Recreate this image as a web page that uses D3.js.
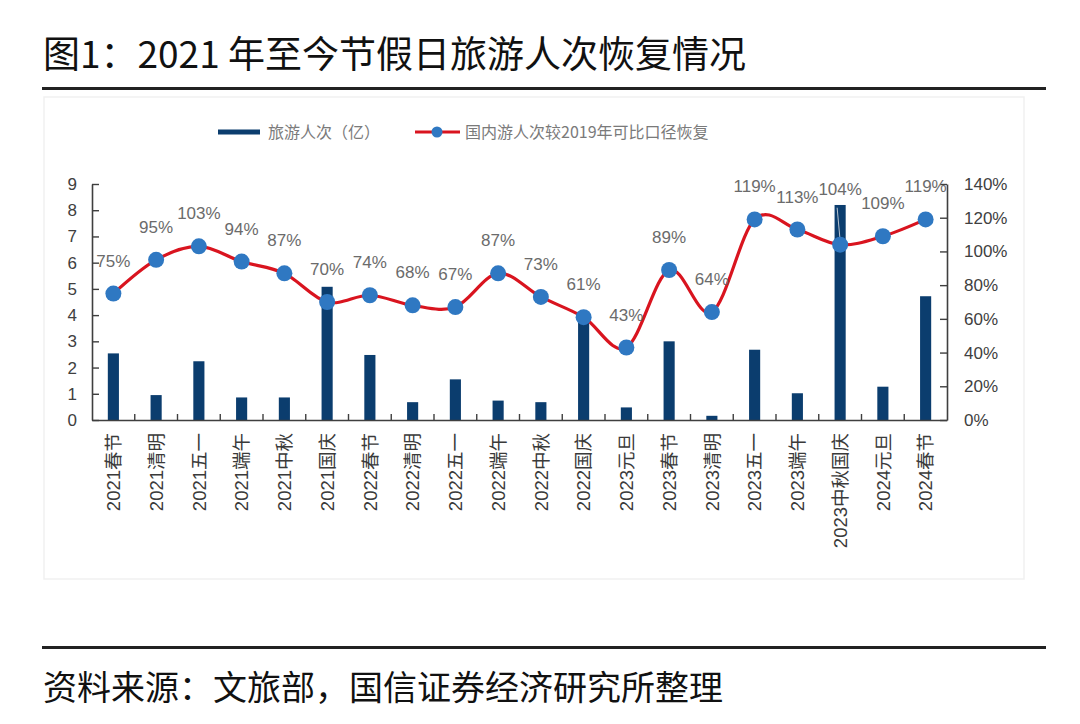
<!DOCTYPE html>
<html><head><meta charset="utf-8">
<script src="https://cdn.jsdelivr.net/npm/d3@7"></script>
<style>
html,body{margin:0;padding:0;background:#fff;}
svg{display:block;}
</style>
</head><body>
<svg id="chart" width="1080" height="724"></svg>
<script>
// ---- data ----
const categories = ["2021春节","2021清明","2021五一","2021端午","2021中秋","2021国庆",
  "2022春节","2022清明","2022五一","2022端午","2022中秋","2022国庆",
  "2023元旦","2023春节","2023清明","2023五一","2023端午","2023中秋国庆",
  "2024元旦","2024春节"];
const trips = [2.54, 0.95, 2.24, 0.86, 0.86, 5.08, 2.48, 0.68, 1.55, 0.74, 0.68, 3.95,
  0.48, 3.0, 0.16, 2.68, 1.02, 8.2, 1.27, 4.72];
const recovery = [0.75, 0.95, 1.03, 0.94, 0.87, 0.70, 0.74, 0.68, 0.67, 0.87, 0.73, 0.61,
  0.43, 0.89, 0.64, 1.19, 1.13, 1.04, 1.09, 1.19];
const leftTicks = [0,1,2,3,4,5,6,7,8,9];
const rightTicks = [0,0.2,0.4,0.6,0.8,1.0,1.2,1.4];
const title = "图1：2021 年至今节假日旅游人次恢复情况";
const source = "资料来源：文旅部，国信证券经济研究所整理";
const legendLabels = ["旅游人次（亿）","国内游人次较2019年可比口径恢复"];

// ---- layout ----
const svg = d3.select("#chart");
const L = 92, R = 947, T = 184, B = 420;
const barColor = "#0b3d6e", lineColor = "#d9141f", dotColor = "#2f78c2";
const axisColor = "#3f3f3f";
const fontLatin = "'Liberation Sans', Arial, 'Noto Sans CJK SC', sans-serif";
const fontCJK = "'Noto Sans CJK SC', 'Liberation Sans', sans-serif";

// title & rules
svg.append("text").attr("x", 43).attr("y", 68).text(title)
  .attr("font-family", fontCJK).attr("font-size", 37).attr("font-weight", 400).attr("fill", "#111");
svg.append("rect").attr("x", 42).attr("y", 87).attr("width", 1004).attr("height", 3).attr("fill", "#222");
svg.append("rect").attr("x", 42).attr("y", 646).attr("width", 1004).attr("height", 3).attr("fill", "#222");
svg.append("text").attr("x", 43).attr("y", 700).text(source)
  .attr("font-family", fontCJK).attr("font-size", 34).attr("font-weight", 400).attr("fill", "#111");

// faint panel
svg.append("rect").attr("x", 44).attr("y", 97).attr("width", 980).attr("height", 482)
  .attr("fill", "#fff").attr("stroke", "#f1f1f1").attr("stroke-width", 1.5);

// scales
const x = d3.scaleBand().domain(categories).range([L, R]).padding(0);
const yL = d3.scaleLinear().domain([0, 9]).range([B, T]);
const yR = d3.scaleLinear().domain([0, 1.4]).range([B, T]);
const bw = x.bandwidth() * 0.26;
const cx = c => x(c) + x.bandwidth() / 2;

// bars
svg.append("g").selectAll("rect").data(categories).join("rect")
  .attr("x", d => cx(d) - bw / 2)
  .attr("y", (d, i) => yL(trips[i]))
  .attr("width", bw)
  .attr("height", (d, i) => B - yL(trips[i]))
  .attr("fill", barColor);

// axes
const gL = svg.append("g").attr("transform", `translate(${L},0)`)
  .call(d3.axisLeft(yL).tickValues(leftTicks).tickSizeInner(-7).tickSizeOuter(0).tickPadding(15));
const gR = svg.append("g").attr("transform", `translate(${R},0)`)
  .call(d3.axisRight(yR).tickValues(rightTicks).tickSizeInner(-7).tickSizeOuter(0).tickPadding(17)
    .tickFormat(d3.format(".0%")));
[gL, gR].forEach(g => {
  g.select(".domain").attr("stroke", axisColor).attr("stroke-width", 1.6);
  g.selectAll(".tick line").attr("stroke", axisColor).attr("stroke-width", 1.4);
  g.selectAll(".tick text").attr("font-family", fontLatin).attr("font-size", 17).attr("fill", "#404040");
});

// x axis
const gX = svg.append("g").attr("transform", `translate(0,${B})`)
  .call(d3.axisBottom(x).tickSize(0).tickPadding(0));
gX.select(".domain").attr("stroke", axisColor).attr("stroke-width", 1.6);
gX.selectAll(".tick text")
  .attr("font-family", fontLatin).attr("font-size", 18.5).attr("fill", "#3a3a3a")
  .attr("text-anchor", "end")
  .attr("transform", "translate(0,13) rotate(-90)")
  .attr("x", 0).attr("y", 0).attr("dy", "0.36em");
// category boundary ticks
gX.append("g").selectAll("line").data(categories.slice(1)).join("line")
  .attr("x1", d => x(d)).attr("x2", d => x(d))
  .attr("y1", 0).attr("y2", -6)
  .attr("stroke", axisColor).attr("stroke-width", 1.4);

// line (Excel-style smoothing ~ uniform Catmull-Rom)
const pts = categories.map((c, i) => [cx(c), yR(recovery[i])]);
svg.append("path").datum(pts)
  .attr("d", d3.line().curve(d3.curveCardinal.tension(0)))
  .attr("fill", "none").attr("stroke", lineColor).attr("stroke-width", 3.2);

// leader line for the raised label
const raised = "2023中秋国庆";
const ri = categories.indexOf(raised);
svg.append("line")
  .attr("x1", cx(raised) - 3).attr("y1", yR(recovery[ri]) - 37)
  .attr("x2", cx(raised)).attr("y2", yR(recovery[ri]) - 4)
  .attr("stroke", "#b8c4d0").attr("stroke-width", 1);

// markers
svg.append("g").selectAll("circle").data(pts).join("circle")
  .attr("cx", d => d[0]).attr("cy", d => d[1]).attr("r", 8).attr("fill", dotColor);

// data labels
svg.append("g").selectAll("text").data(categories).join("text")
  .attr("x", d => cx(d))
  .attr("y", (d, i) => yR(recovery[i]) - (d === raised ? 50 : 27))
  .attr("text-anchor", "middle")
  .attr("font-family", fontLatin).attr("font-size", 17).attr("fill", "#6b6b6b")
  .text((d, i) => Math.round(recovery[i] * 100) + "%");

// legend
const lg = svg.append("g");
lg.append("rect").attr("x", 218).attr("y", 129.5).attr("width", 42).attr("height", 5).attr("fill", barColor);
lg.append("text").attr("x", 268).attr("y", 138).text(legendLabels[0])
  .attr("font-family", fontCJK).attr("font-size", 16).attr("fill", "#7a7a7a");
lg.append("line").attr("x1", 415).attr("x2", 460).attr("y1", 132).attr("y2", 132)
  .attr("stroke", lineColor).attr("stroke-width", 3.2);
lg.append("circle").attr("cx", 437).attr("cy", 132).attr("r", 5.5).attr("fill", dotColor);
lg.append("text").attr("x", 465).attr("y", 138).text(legendLabels[1])
  .attr("font-family", fontCJK).attr("font-size", 16).attr("fill", "#7a7a7a");
</script>
</body></html>
